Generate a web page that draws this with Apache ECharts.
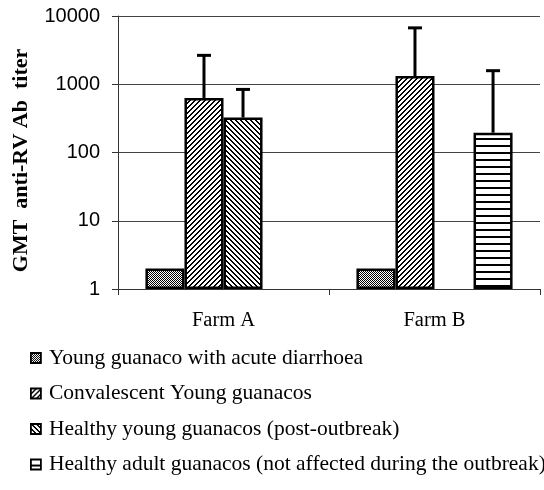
<!DOCTYPE html>
<html>
<head>
<meta charset="utf-8">
<script src="https://cdn.jsdelivr.net/npm/echarts@6/dist/echarts.min.js"></script>
<style>
  html, body { margin: 0; padding: 0; background: #fff; }
  #chart { width: 544px; height: 490px; }
</style>
</head>
<body>
<div id="chart"></div>
<script>
// ---- data ----
const categories = ['Farm A', 'Farm B'];
const seriesNames = [
  'Young guanaco with acute diarrhoea',
  'Convalescent Young guanacos',
  'Healthy young guanacos (post-outbreak)',
  'Healthy adult guanacos (not affected during the outbreak)'
];
const acuteValues = [2, 2];
const convalescentValues = [630, 1320];
const healthyYoungValues = [325, null];
const healthyAdultValues = [null, 195];
const convalescentUpper = [2650, 6700];
const healthyYoungUpper = [840, null];
const healthyAdultUpper = [null, 1580];
const yTicks = [1, 10, 100, 1000, 10000];

// ---- patterns ----
function makePattern(w, h, draw) {
  const c = document.createElement('canvas');
  c.width = w; c.height = h;
  const ctx = c.getContext('2d');
  ctx.fillStyle = '#fff';
  ctx.fillRect(0, 0, w, h);
  ctx.fillStyle = '#000';
  draw(ctx);
  return { image: c, repeat: 'repeat' };
}
const checkPattern = makePattern(2, 2, ctx => {
  ctx.fillRect(0, 0, 1, 1);
  ctx.fillRect(1, 1, 1, 1);
});
const slashPattern = makePattern(5, 5, ctx => {
  for (let i = 0; i < 5; i++) {
    ctx.fillRect(i, 4 - i, 1, 1);
    ctx.fillRect((i + 1) % 5, 4 - i, 1, 1);
  }
});
const backslashPattern = makePattern(5, 5, ctx => {
  for (let i = 0; i < 5; i++) {
    ctx.fillRect(i, i, 1, 1);
    ctx.fillRect((i + 1) % 5, i, 1, 1);
  }
});
const horizPattern = makePattern(2, 7, ctx => {
  ctx.fillRect(0, 5, 2, 2);
});
const patterns = [checkPattern, slashPattern, backslashPattern, horizPattern];
const valueSets = [acuteValues, convalescentValues, healthyYoungValues, healthyAdultValues];
const upperSets = [null, convalescentUpper, healthyYoungUpper, healthyAdultUpper];

const CAT_GAP = 0.26;

const barSeries = seriesNames.map((name, k) => ({
  name: name,
  type: 'bar',
  barGap: '0%',
  barCategoryGap: (CAT_GAP * 100) + '%',
  data: valueSets[k].map(v => v == null ? '-' : v),
  itemStyle: { color: patterns[k], borderColor: '#000', borderWidth: 2.5 },
  emphasis: { disabled: true },
  z: 2
}));

const errSeries = [];
upperSets.forEach((ups, k) => {
  if (!ups) return;
  const data = [];
  ups.forEach((u, i) => {
    if (u != null && valueSets[k][i] != null) data.push([i, u, valueSets[k][i]]);
  });
  errSeries.push({
    type: 'custom',
    name: 'err' + k,
    data: data,
    z: 3,
    silent: true,
    renderItem: function (params, api) {
      const cat = api.value(0);
      const top = api.coord([cat, api.value(1)]);
      const base = api.coord([cat, api.value(2)]);
      const bw = api.size([1, 0])[0] * (1 - CAT_GAP) / 4;
      const x = top[0] + (k - 1.5) * bw;
      const half = 7;
      const st = { stroke: '#000', lineWidth: 3 };
      return {
        type: 'group',
        children: [
          { type: 'line', shape: { x1: x, y1: base[1], x2: x, y2: top[1] }, style: st },
          { type: 'line', shape: { x1: x - half, y1: top[1], x2: x + half, y2: top[1] }, style: st }
        ]
      };
    }
  });
});

const chart = echarts.init(document.getElementById('chart'));
chart.setOption({
  animation: false,
  backgroundColor: '#fff',
  grid: { left: 118, right: 4, top: 16, bottom: 201, containLabel: false },
  legend: {
    data: seriesNames,
    orient: 'vertical',
    left: 30,
    top: 347,
    padding: 0,
    itemGap: 13.5,
    itemWidth: 10,
    itemHeight: 10,
    icon: 'rect',
    selectedMode: false,
    itemStyle: { borderColor: '#000', borderWidth: 1.8 },
    textStyle: {
      fontFamily: 'Liberation Serif',
      fontSize: 21.5,
      lineHeight: 21.5,
      color: '#000',
      padding: [0, 0, 0, 3]
    }
  },
  xAxis: {
    type: 'category',
    data: categories,
    axisLine: { show: true, lineStyle: { color: '#333', width: 1 } },
    axisTick: { show: true, length: 6, lineStyle: { color: '#333' } },
    axisLabel: {
      fontFamily: 'Liberation Serif',
      fontSize: 20.5,
      color: '#000',
      margin: 21
    },
    splitLine: { show: false }
  },
  yAxis: {
    type: 'log',
    logBase: 10,
    min: 1,
    max: 10000,
    name: 'GMT  anti-RV Ab  titer',
    nameLocation: 'middle',
    nameRotate: 90,
    nameGap: 86,
    nameTextStyle: {
      fontFamily: 'Liberation Serif',
      fontWeight: 'bold',
      fontSize: 22,
      color: '#000',
      padding: [0, 16, 0, 0]
    },
    axisLine: { show: true, lineStyle: { color: '#333', width: 1 } },
    axisTick: { show: true, length: 6, lineStyle: { color: '#333' } },
    axisLabel: {
      fontFamily: 'Liberation Sans',
      fontSize: 20,
      color: '#000',
      margin: 18,
      formatter: function (v) {
        const r = Math.round(v);
        return yTicks.indexOf(r) >= 0 ? String(r) : '';
      }
    },
    splitLine: { show: true, lineStyle: { color: '#444', width: 1 } }
  },
  series: barSeries.concat(errSeries)
});
</script>
</body>
</html>
